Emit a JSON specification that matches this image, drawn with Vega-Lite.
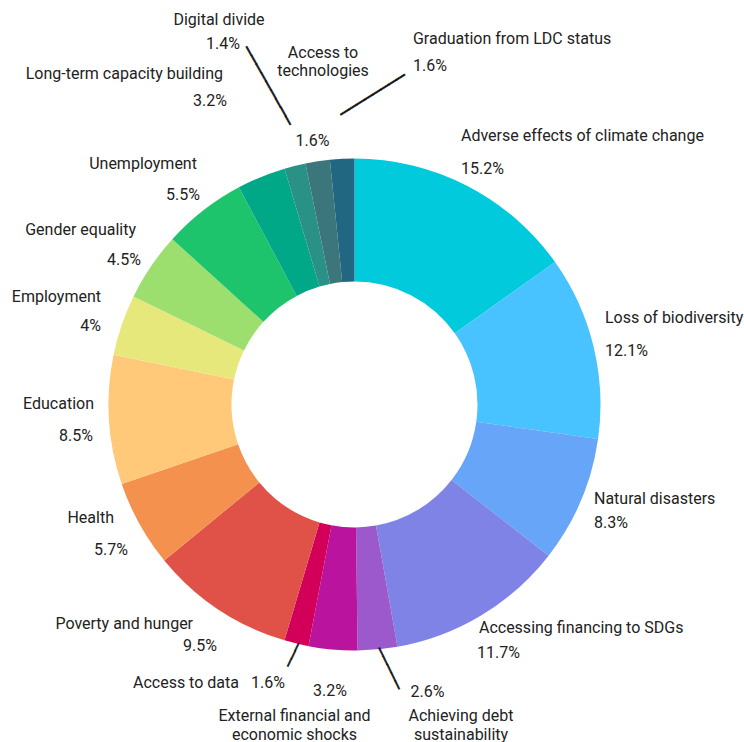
{
  "$schema": "https://vega.github.io/schema/vega-lite/v6.json",
  "width": 709,
  "height": 675,
  "autosize": "none",
  "padding": {"left": 0, "top": 67, "right": 35, "bottom": 0},
  "background": "white",
  "config": {"view": {"stroke": null}, "text": {"font": "Roboto", "fontSize": 16, "color": "#222222", "baseline": "middle", "lineHeight": 18.5}},
  "data": {"values": [
    {"cat": "Adverse effects of climate change", "value": 15.2},
    {"cat": "Loss of biodiversity", "value": 12.1},
    {"cat": "Natural disasters", "value": 8.3},
    {"cat": "Accessing financing to SDGs", "value": 11.7},
    {"cat": "Achieving debt sustainability", "value": 2.6},
    {"cat": "External financial and economic shocks", "value": 3.2},
    {"cat": "Access to data", "value": 1.6},
    {"cat": "Poverty and hunger", "value": 9.5},
    {"cat": "Health", "value": 5.7},
    {"cat": "Education", "value": 8.5},
    {"cat": "Employment", "value": 4},
    {"cat": "Gender equality", "value": 4.5},
    {"cat": "Unemployment", "value": 5.5},
    {"cat": "Long-term capacity building", "value": 3.2},
    {"cat": "Digital divide", "value": 1.4},
    {"cat": "Access to technologies", "value": 1.6},
    {"cat": "Graduation from LDC status", "value": 1.6}
  ]},
  "transform": [
    {"window": [{"op": "row_number", "as": "idx"}]},
    {"calculate": "datum.value + '%'", "as": "pct"}
  ],
  "encoding": {
    "theta": {"field": "value", "type": "quantitative", "stack": true},
    "order": {"field": "idx", "type": "quantitative"}
  },
  "layer": [
    {"mark": {"type": "arc", "innerRadius": 123, "outerRadius": 246},
     "encoding": {"color": {"field": "cat", "type": "nominal", "legend": null,
       "scale": {"domain": ["Adverse effects of climate change","Loss of biodiversity","Natural disasters","Accessing financing to SDGs","Achieving debt sustainability","External financial and economic shocks","Access to data","Poverty and hunger","Health","Education","Employment","Gender equality","Unemployment","Long-term capacity building","Digital divide","Access to technologies","Graduation from LDC status"],
                 "range": ["#00CADC","#48C3FF","#66A5F8","#7F83E6","#9B59CB","#BA149E","#D3005A","#E05247","#F5914F","#FFC979","#E6E87C","#9DDF6F","#1DC46B","#00A888","#2A9187","#3B767D","#226782"]}}}},

    {"mark": {"type": "text", "radius": 262, "align": "left", "dx": -13.7, "dy": -35.7},
     "encoding": {"text": {"condition": {"test": "datum.cat === 'Adverse effects of climate change'", "field": "cat"}, "value": ""}}},
    {"mark": {"type": "text", "radius": 262, "align": "left", "dx": -13.7, "dy": -2.7},
     "encoding": {"text": {"condition": {"test": "datum.cat === 'Adverse effects of climate change'", "field": "pct"}, "value": ""}}},

    {"mark": {"type": "text", "radius": 262, "align": "left", "dx": -4.1, "dy": -24.7},
     "encoding": {"text": {"condition": {"test": "datum.cat === 'Loss of biodiversity'", "field": "cat"}, "value": ""}}},
    {"mark": {"type": "text", "radius": 262, "align": "left", "dx": -4.1, "dy": 8.3},
     "encoding": {"text": {"condition": {"test": "datum.cat === 'Loss of biodiversity'", "field": "pct"}, "value": ""}}},

    {"mark": {"type": "text", "radius": 262, "align": "left", "dx": -1.7, "dy": -7.9},
     "encoding": {"text": {"condition": {"test": "datum.cat === 'Natural disasters'", "field": "cat"}, "value": ""}}},
    {"mark": {"type": "text", "radius": 262, "align": "left", "dx": -1.7, "dy": 16.1},
     "encoding": {"text": {"condition": {"test": "datum.cat === 'Natural disasters'", "field": "pct"}, "value": ""}}},

    {"mark": {"type": "text", "radius": 262, "align": "left", "dx": -10.8, "dy": -0.9},
     "encoding": {"text": {"condition": {"test": "datum.cat === 'Accessing financing to SDGs'", "field": "cat"}, "value": ""}}},
    {"mark": {"type": "text", "radius": 262, "align": "left", "dx": -12.8, "dy": 24.1},
     "encoding": {"text": {"condition": {"test": "datum.cat === 'Accessing financing to SDGs'", "field": "pct"}, "value": ""}}},

    {"mark": {"type": "text", "radius": 262, "align": "center", "dx": 48.4, "dy": 26.6},
     "encoding": {"text": {"condition": {"test": "datum.cat === 'Achieving debt sustainability'", "field": "pct"}, "value": ""}}},
    {"mark": {"type": "text", "radius": 262, "align": "center", "dx": 81.9, "dy": 51},
     "encoding": {"text": {"condition": {"test": "datum.cat === 'Achieving debt sustainability'", "value": ["Achieving debt", "sustainability"]}, "value": ""}}},

    {"mark": {"type": "text", "radius": 262, "align": "center", "dx": -1.5, "dy": 25.5},
     "encoding": {"text": {"condition": {"test": "datum.cat === 'External financial and economic shocks'", "field": "pct"}, "value": ""}}},
    {"mark": {"type": "text", "radius": 262, "align": "center", "dx": -37, "dy": 51},
     "encoding": {"text": {"condition": {"test": "datum.cat === 'External financial and economic shocks'", "value": ["External financial and", "economic shocks"]}, "value": ""}}},

    {"mark": {"type": "text", "radius": 262, "align": "right", "dx": -53.7, "dy": 23.9},
     "encoding": {"text": {"condition": {"test": "datum.cat === 'Access to data'", "field": "cat"}, "value": ""}}},
    {"mark": {"type": "text", "radius": 262, "align": "left", "dx": -41.7, "dy": 23.9},
     "encoding": {"text": {"condition": {"test": "datum.cat === 'Access to data'", "field": "pct"}, "value": ""}}},

    {"mark": {"type": "text", "radius": 262, "align": "right", "dx": -16.5, "dy": 1.3},
     "encoding": {"text": {"condition": {"test": "datum.cat === 'Poverty and hunger'", "field": "cat"}, "value": ""}}},
    {"mark": {"type": "text", "radius": 262, "align": "right", "dx": 7.5, "dy": 23.3},
     "encoding": {"text": {"condition": {"test": "datum.cat === 'Poverty and hunger'", "field": "pct"}, "value": ""}}},

    {"mark": {"type": "text", "radius": 262, "align": "right", "dx": -11.6, "dy": -13.9},
     "encoding": {"text": {"condition": {"test": "datum.cat === 'Health'", "field": "cat"}, "value": ""}}},
    {"mark": {"type": "text", "radius": 262, "align": "right", "dx": 2.4, "dy": 18.1},
     "encoding": {"text": {"condition": {"test": "datum.cat === 'Health'", "field": "pct"}, "value": ""}}},

    {"mark": {"type": "text", "radius": 262, "align": "right", "dx": 1, "dy": -16.9},
     "encoding": {"text": {"condition": {"test": "datum.cat === 'Education'", "field": "cat"}, "value": ""}}},
    {"mark": {"type": "text", "radius": 262, "align": "right", "dx": 0, "dy": 15.1},
     "encoding": {"text": {"condition": {"test": "datum.cat === 'Education'", "field": "pct"}, "value": ""}}},

    {"mark": {"type": "text", "radius": 262, "align": "right", "dx": -5.6, "dy": -22.8},
     "encoding": {"text": {"condition": {"test": "datum.cat === 'Employment'", "field": "cat"}, "value": ""}}},
    {"mark": {"type": "text", "radius": 262, "align": "right", "dx": -5.6, "dy": 6.2},
     "encoding": {"text": {"condition": {"test": "datum.cat === 'Employment'", "field": "pct"}, "value": ""}}},

    {"mark": {"type": "text", "radius": 262, "align": "right", "dx": -1.6, "dy": -27.5},
     "encoding": {"text": {"condition": {"test": "datum.cat === 'Gender equality'", "field": "cat"}, "value": ""}}},
    {"mark": {"type": "text", "radius": 262, "align": "right", "dx": 3.4, "dy": 2.5},
     "encoding": {"text": {"condition": {"test": "datum.cat === 'Gender equality'", "field": "pct"}, "value": ""}}},

    {"mark": {"type": "text", "radius": 262, "align": "right", "dx": 3.4, "dy": -33.8},
     "encoding": {"text": {"condition": {"test": "datum.cat === 'Unemployment'", "field": "cat"}, "value": ""}}},
    {"mark": {"type": "text", "radius": 262, "align": "right", "dx": 6.4, "dy": -2.8},
     "encoding": {"text": {"condition": {"test": "datum.cat === 'Unemployment'", "field": "pct"}, "value": ""}}},

    {"mark": {"type": "text", "radius": 262, "align": "right", "dx": -32.2, "dy": -88},
     "encoding": {"text": {"condition": {"test": "datum.cat === 'Long-term capacity building'", "field": "cat"}, "value": ""}}},
    {"mark": {"type": "text", "radius": 262, "align": "right", "dx": -28.2, "dy": -61},
     "encoding": {"text": {"condition": {"test": "datum.cat === 'Long-term capacity building'", "field": "pct"}, "value": ""}}},

    {"mark": {"type": "text", "radius": 262, "align": "center", "dx": -72.1, "dy": -130.3},
     "encoding": {"text": {"condition": {"test": "datum.cat === 'Digital divide'", "field": "cat"}, "value": ""}}},
    {"mark": {"type": "text", "radius": 262, "align": "right", "dx": -51.1, "dy": -106.3},
     "encoding": {"text": {"condition": {"test": "datum.cat === 'Digital divide'", "field": "pct"}, "value": ""}}},

    {"mark": {"type": "text", "radius": 262, "align": "center", "dx": 7.8, "dy": -92.5},
     "encoding": {"text": {"condition": {"test": "datum.cat === 'Access to technologies'", "value": ["Access to", "technologies"]}, "value": ""}}},
    {"mark": {"type": "text", "radius": 262, "align": "center", "dx": -2.7, "dy": -4.5},
     "encoding": {"text": {"condition": {"test": "datum.cat === 'Access to technologies'", "field": "pct"}, "value": ""}}},

    {"mark": {"type": "text", "radius": 262, "align": "left", "dx": 71.6, "dy": -103.8},
     "encoding": {"text": {"condition": {"test": "datum.cat === 'Graduation from LDC status'", "field": "cat"}, "value": ""}}},
    {"mark": {"type": "text", "radius": 262, "align": "left", "dx": 71.6, "dy": -76.8},
     "encoding": {"text": {"condition": {"test": "datum.cat === 'Graduation from LDC status'", "field": "pct"}, "value": ""}}},

    {"mark": {"type": "text", "radius": 262, "align": "center", "font": "DejaVu Sans Mono", "fontSize": 16.5, "color": "#111111", "stroke": "#111111", "strokeWidth": 0.6, "angle": 60.6, "dx": -67.4, "dy": -11.4},
     "encoding": {"text": {"condition": {"test": "datum.cat === 'Digital divide'", "value": "─────────"}, "value": ""}}},
    {"mark": {"type": "text", "radius": 262, "align": "center", "font": "DejaVu Sans Mono", "fontSize": 15.7, "color": "#111111", "stroke": "#111111", "strokeWidth": 0.6, "angle": 328, "dx": 52.1, "dy": -23.8},
     "encoding": {"text": {"condition": {"test": "datum.cat === 'Graduation from LDC status'", "value": "────────"}, "value": ""}}},
    {"mark": {"type": "text", "radius": 262, "align": "center", "font": "DejaVu Sans Mono", "fontSize": 14.1, "color": "#111111", "stroke": "#111111", "strokeWidth": 0.6, "angle": 115.6, "dx": -4.06, "dy": 2.17},
     "encoding": {"text": {"condition": {"test": "datum.cat === 'Access to data'", "value": "───"}, "value": ""}}},
    {"mark": {"type": "text", "radius": 262, "align": "center", "font": "DejaVu Sans Mono", "fontSize": 15.1, "color": "#111111", "stroke": "#111111", "strokeWidth": 0.6, "angle": 64, "dx": 7.13, "dy": -7.54},
     "encoding": {"text": {"condition": {"test": "datum.cat === 'Achieving debt sustainability'", "value": "─────"}, "value": ""}}}
  ]
}
